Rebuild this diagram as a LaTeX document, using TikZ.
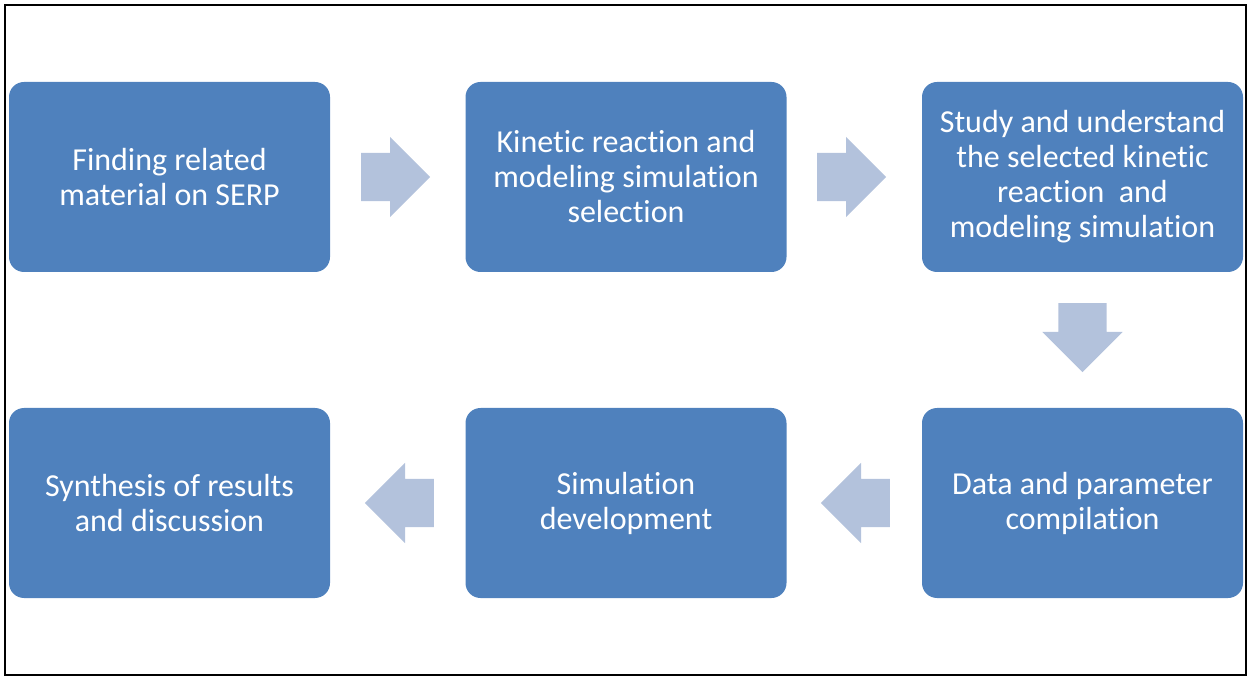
\documentclass[tikz,border=0pt]{standalone}
\usepackage{fontspec}
\setmainfont[Ligatures=NoCommon]{Carlito}
\usetikzlibrary{shapes.arrows}
\definecolor{boxBlue}{HTML}{4F81BD}
\definecolor{arrBlue}{HTML}{B3C2DC}

\begin{document}
\begin{tikzpicture}[x=1pt, y=-1pt,
      stage/.style={fill=boxBlue, rounded corners=15pt, minimum width=321pt,
                    minimum height=190pt, inner sep=0pt, align=center,
                    text=white, font=\fontsize{32}{35}\selectfont},
      flow/.style={single arrow, fill=arrBlue, draw=none, minimum height=69pt,
                   minimum width=80pt, single arrow head extend=16pt,
                   single arrow head indent=0pt, inner xsep=0pt, inner ysep=24pt,
                   anchor=tail}]
    \useasboundingbox (0,0) rectangle (1254,676);
    \draw[line width=1.2pt] (5,5) rectangle (1246,675);
    \node[stage] (find)  at (169.5,177) {Finding related\\material on SERP};
    \node[stage] (kin)   at (626,177)   {Kinetic reaction and\\modeling simulation\\selection};
    \node[stage] (study) at (1082.5,177) {Study and understand\\the selected kinetic\\reaction~ and\\modeling simulation};
    \node[stage] (data)  at (1082.5,503) {Data and parameter\\compilation};
    \node[stage] (sim)   at (626,503)   {Simulation\\development};
    \node[stage] (synth) at (169.5,503) {Synthesis of results\\and discussion};
    % block arrows between the stages
    \node[flow] (a1) at (361,177) {};
    \node[flow] (a2) at (817,177) {};
    \node[flow, rotate=-90] (a3) at (1082.5,303) {};
    \node[flow, rotate=180] (a4) at (890,503) {};
    \node[flow, rotate=180] (a5) at (434,503) {};
  \end{tikzpicture}
\end{document}
